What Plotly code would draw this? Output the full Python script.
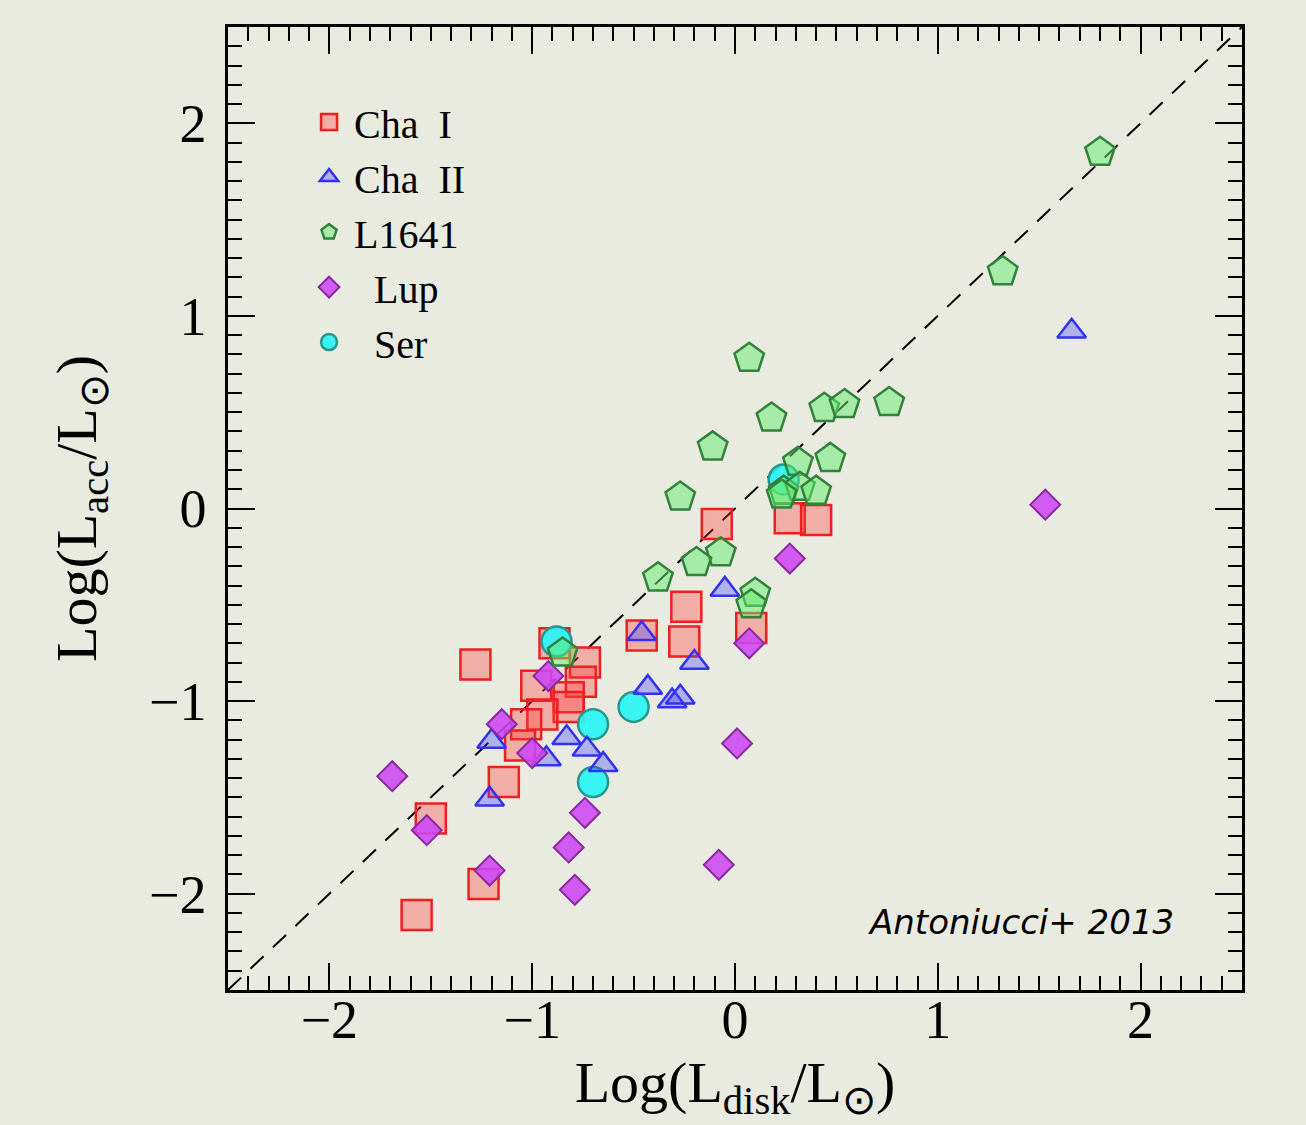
import plotly.graph_objects as go

# ---- data ----
cha1_x = [-1.28, -0.89, -0.74, -0.76, -0.98, -0.82, -0.82, -0.95, -1.03, -1.06, -1.14,
          -1.50, -1.24, -1.57, -0.46, -0.24, -0.25, 0.08, -0.09, 0.27, 0.40]
cha1_y = [-0.81, -0.70, -0.80, -0.90, -0.92, -0.98, -1.03, -1.07, -1.12, -1.23, -1.42,
          -1.61, -1.95, -2.11, -0.66, -0.51, -0.69, -0.62, -0.08, -0.05, -0.06]

cha2_x = [-0.46, -0.43, -0.31, -0.83, -0.73, -0.65, -1.20, -0.93, -1.21, -0.05, -0.20,
          -0.27, 1.66]
cha2_y = [-0.65, -0.93, -1.00, -1.19, -1.25, -1.33, -1.21, -1.30, -1.51, -0.42, -0.80,
          -0.98, 0.92]

l1641_x = [1.80, 1.32, 0.07, 0.18, 0.44, 0.54, 0.76, -0.11, 0.31, 0.47, -0.27, 0.24,
           0.32, 0.40, 0.23, -0.07, -0.19, -0.38, 0.10, 0.08, -0.85]
l1641_y = [1.85, 1.23, 0.78, 0.47, 0.52, 0.54, 0.55, 0.32, 0.24, 0.26, 0.06, 0.09,
           0.11, 0.09, 0.07, -0.23, -0.28, -0.36, -0.44, -0.50, -0.75]

lup_x = [1.53, 0.27, 0.07, 0.01, -0.08, -0.92, -1.15, -1.00, -1.69, -1.52, -1.21,
         -0.74, -0.82, -0.79]
lup_y = [0.02, -0.26, -0.70, -1.22, -1.85, -0.87, -1.12, -1.27, -1.39, -1.67, -1.88,
         -1.58, -1.76, -1.98]

ser_x = [-0.88, -0.50, -0.70, -0.70, 0.24]
ser_y = [-0.69, -1.03, -1.12, -1.42, 0.15]

axis_range = [-2.5, 2.5]
tick_vals = [-2, -1, 0, 1, 2]

BG = "rgb(233,235,224)"
SERIF = "Liberation Serif"

fig = go.Figure()

# one-to-one line
fig.add_trace(go.Scatter(x=axis_range, y=axis_range, mode="lines",
                         line=dict(color="black", width=2, dash="18px,13px"),
                         showlegend=False, hoverinfo="skip"))

fig.add_trace(go.Scatter(x=cha1_x, y=cha1_y, mode="markers", name="Cha  I", legendrank=1,
                         marker=dict(symbol="square", size=30, color="rgba(255,60,60,0.35)",
                                     line=dict(color="rgb(240,30,30)", width=2.5))))
fig.add_trace(go.Scatter(x=ser_x, y=ser_y, mode="markers", name="  Ser", legendrank=5,
                         marker=dict(symbol="circle", size=30, color="rgba(40,245,245,0.92)",
                                     line=dict(color="rgb(40,150,140)", width=2.5))))
fig.add_trace(go.Scatter(x=cha2_x, y=cha2_y, mode="markers", name="Cha  II", legendrank=2,
                         marker=dict(symbol="triangle-up", size=25, color="rgba(70,70,255,0.35)",
                                     line=dict(color="rgb(50,50,240)", width=2.5))))
fig.add_trace(go.Scatter(x=lup_x, y=lup_y, mode="markers", name="  Lup", legendrank=4,
                         marker=dict(symbol="diamond", size=23, color="rgba(205,70,245,0.88)",
                                     line=dict(color="rgb(140,40,160)", width=2))))
fig.add_trace(go.Scatter(x=l1641_x, y=l1641_y, mode="markers", name="L1641", legendrank=3,
                         marker=dict(symbol="pentagon", size=31, color="rgba(100,235,110,0.5)",
                                     line=dict(color="rgb(50,130,60)", width=2.5))))

axis_common = dict(
    range=axis_range, tickvals=tick_vals, ticks="inside", ticklen=27, tickwidth=2,
    tickcolor="black", showline=True, linecolor="black", linewidth=2.5, mirror="allticks",
    showgrid=False, zeroline=False,
    tickfont=dict(family=SERIF, size=54, color="black"),
    minor=dict(ticks="inside", ticklen=14, tickwidth=2, tickcolor="black", dtick=0.1,
               showgrid=False),
)

fig.update_xaxes(**axis_common, ticklabelstandoff=-20,
                 title=dict(text="Log(L<sub>disk</sub>/L<sub>⊙</sub>)",
                            font=dict(family=SERIF, size=58, color="black"), standoff=0))
fig.update_yaxes(**axis_common, ticklabelstandoff=8,
                 title=dict(text="Log(L<sub>acc</sub>/L<sub>⊙</sub>)",
                            font=dict(family=SERIF, size=58, color="black"), standoff=34))

fig.add_annotation(text="<i>Antoniucci+ 2013</i>", xref="paper", yref="paper",
                   x=0.935, y=0.048, xanchor="right", yanchor="bottom", showarrow=False,
                   font=dict(family="DejaVu Sans", size=34, color="black"))

fig.update_layout(
    width=1306, height=1125,
    margin=dict(l=228, r=64, t=27, b=135),
    paper_bgcolor=BG, plot_bgcolor=BG,
    legend=dict(x=0.075, y=0.935, xanchor="left", yanchor="top",
                bgcolor="rgba(0,0,0,0)", borderwidth=0,
                font=dict(family=SERIF, size=40, color="black"),
                itemwidth=40),
    showlegend=True,
)

fig.write_html("out.html")
